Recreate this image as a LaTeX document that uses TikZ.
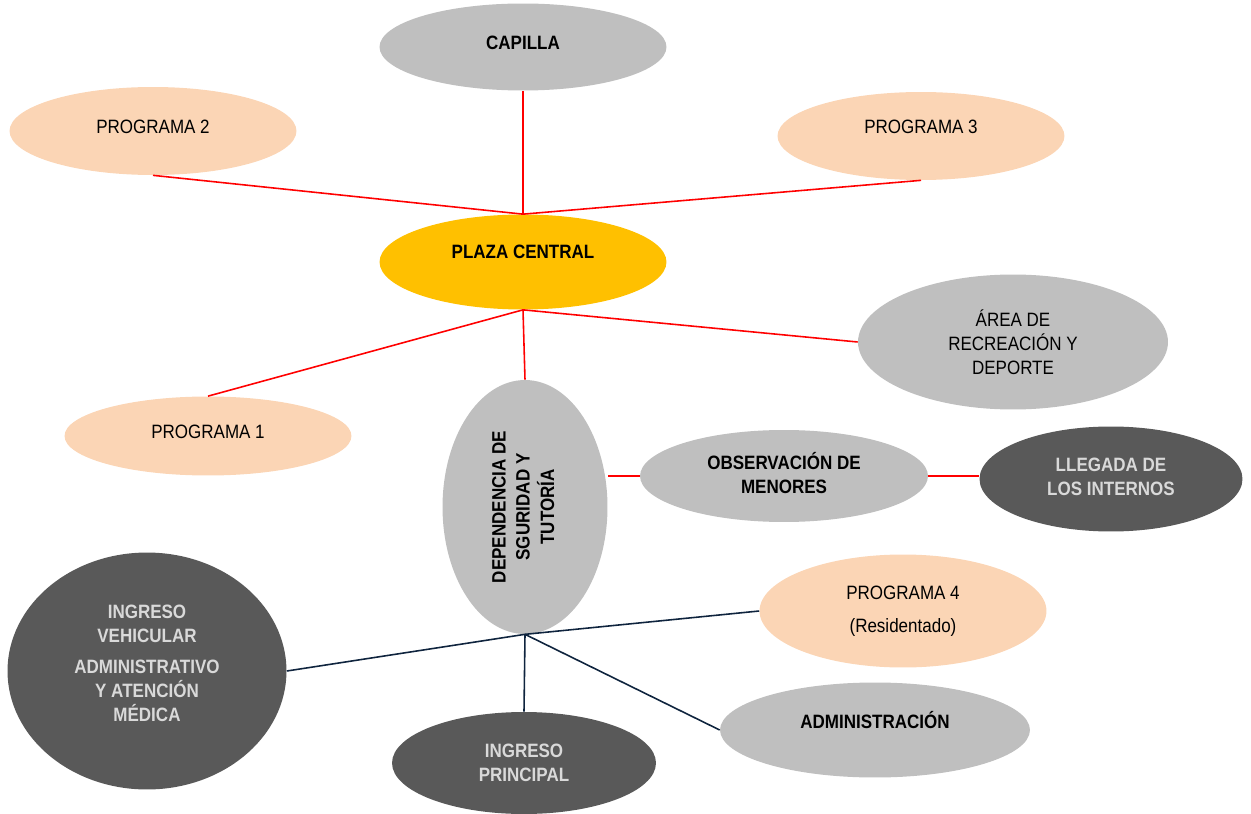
\documentclass[tikz,border=0pt]{standalone}
\usepackage{fontspec}
\setmainfont{Liberation Sans}[FakeStretch=0.88]
\usepackage{tikz}
\usetikzlibrary{shapes.geometric}
\definecolor{Peach}{RGB}{251,213,181}
\definecolor{SoftGray}{RGB}{191,191,191}
\definecolor{DarkGray}{RGB}{89,89,89}
\definecolor{LightText}{RGB}{217,217,217}
\definecolor{Gold}{RGB}{255,192,0}
\definecolor{Navy}{RGB}{15,36,62}

\begin{document}
\begin{tikzpicture}[x=0.02cm,y=-0.02cm,
zone/.style={ellipse,inner sep=0pt,align=center,font=\fontsize{11}{13.7}\selectfont},
prog/.style={zone,fill=Peach},
grayz/.style={zone,fill=SoftGray,font=\fontsize{11}{13.7}\selectfont\bfseries},
darkz/.style={zone,fill=DarkGray,text=LightText,font=\fontsize{11}{13.7}\selectfont\bfseries},
txtup/.style={text depth=#1},
redline/.style={draw=red,line width=0.9pt},
navyline/.style={draw=Navy,line width=0.9pt}]
\useasboundingbox (0,0) rectangle (1251,814);
% upper zones
\node[grayz,txtup=0.16cm,minimum width=5.74cm,minimum height=1.74cm] (cap) at (523,47) {CAPILLA};
\node[prog,txtup=0.16cm,minimum width=5.74cm,minimum height=1.76cm] (p2) at (153,131) {PROGRAMA 2};
\node[prog,txtup=0.36cm,minimum width=5.74cm,minimum height=1.76cm] (p3) at (921,136) {PROGRAMA 3};
\node[zone,fill=Gold,font=\fontsize{11}{13.7}\selectfont\bfseries,txtup=0.4cm,minimum width=5.74cm,minimum height=1.9cm] (plaza) at (523,262) {PLAZA CENTRAL};
\node[zone,fill=SoftGray,minimum width=6.2cm,minimum height=2.7cm] (area) at (1013,342) {ÁREA DE\\RECREACIÓN Y\\DEPORTE};
\node[prog,txtup=0.16cm,minimum width=5.74cm,minimum height=1.58cm] (p1) at (208,436) {PROGRAMA 1};
% middle row
\node[grayz,minimum width=3.3cm,minimum height=5.08cm] (dep) at (525,507)
  {\rotatebox{90}{\begin{tabular}{@{}c@{}}DEPENDENCIA DE\\SGURIDAD Y\\TUTORÍA\end{tabular}}};
\node[grayz,txtup=0.14cm,minimum width=5.76cm,minimum height=1.84cm] (obs) at (784,476) {OBSERVACIÓN DE\\MENORES};
\node[darkz,txtup=0.1cm,minimum width=5.26cm,minimum height=2.1cm] (lleg) at (1111,479) {LLEGADA DE\\LOS INTERNOS};
% lower zones
\node[darkz,txtup=0.32cm,minimum width=5.58cm,minimum height=4.74cm] (veh) at (147,671)
  {INGRESO\\VEHICULAR\\[4pt]ADMINISTRATIVO\\Y ATENCIÓN\\MÉDICA};
\node[prog,minimum width=5.74cm,minimum height=2.26cm] (p4) at (903,611) {PROGRAMA 4\\[5pt](Residentado)};
\node[grayz,txtup=0.4cm,minimum width=6.2cm,minimum height=1.9cm] (adm) at (875,730) {ADMINISTRACIÓN};
\node[darkz,minimum width=5.28cm,minimum height=2.04cm] (ingp) at (524,763) {INGRESO\\PRINCIPAL};
% connectors
\draw[redline] (plaza.north) -- (cap.south);
\draw[redline] (plaza.north) -- (p2.south);
\draw[redline] (plaza.north) -- (p3.south);
\draw[redline] (plaza.south) -- (p1.north);
\draw[redline] (plaza.south) -- (area.west);
\draw[redline] (plaza.south) -- (dep.north);
\draw[redline] (obs.west) -- (obs.west -| dep.east);
\draw[redline] (obs.east) -- (obs.east -| lleg.west);
\draw[navyline] (dep.south) -- (veh.east);
\draw[navyline] (dep.south) -- (p4.west);
\draw[navyline] (dep.south) -- (ingp.north);
\draw[navyline] (dep.south) -- (adm.west);
\end{tikzpicture}
\end{document}
